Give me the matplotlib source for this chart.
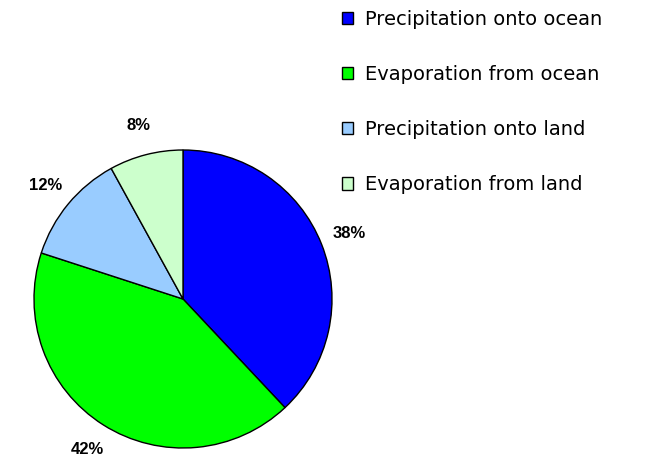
import matplotlib
matplotlib.use('Agg')
import matplotlib.pyplot as plt

labels = ['Precipitation onto ocean', 'Evaporation from ocean',
          'Precipitation onto land', 'Evaporation from land']
values = [38, 42, 12, 8]
colors = ['#0000FF', '#00FF00', '#99CCFF', '#CCFFCC']

fig = plt.figure(figsize=(6.45, 4.58), dpi=100)
# pie centre ~ (183, 299) px, radius ~149 px
ax = fig.add_axes([34 / 645, 10 / 458, 298 / 645, 298 / 458])

wedges, texts, autotexts = ax.pie(
    values, colors=colors, startangle=90, counterclock=False,
    autopct='%d%%', pctdistance=1.2,
    wedgeprops={'edgecolor': 'black', 'linewidth': 1},
    textprops={'fontsize': 12, 'fontweight': 'bold',
               'family': 'Liberation Sans'})
ax.set_xlim(-1, 1)
ax.set_ylim(-1, 1)
ax.set_aspect('equal')

fig.legend(wedges, labels, loc='upper left', bbox_to_anchor=(332 / 645, 1.0),
           frameon=False, handlelength=0.6, handleheight=0.6, handletextpad=0.6,
           labelspacing=1.86, borderpad=0,
           prop={'family': 'DejaVu Sans', 'size': 14})

fig.savefig('out.png', dpi=100)
